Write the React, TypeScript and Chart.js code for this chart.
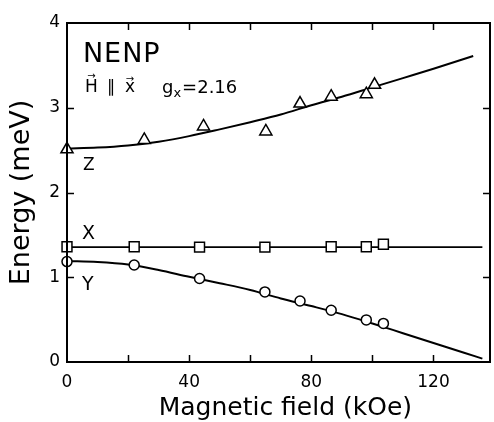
import React, { useEffect, useRef } from "react";
import { Chart, registerables } from "chart.js";

Chart.register(...registerables);

// ---- data ----
const xTickValues = [0, 40, 80, 120];
const xMinorTicks = [20, 40, 60, 80, 100, 120];
const yTickValues = [0, 1, 2, 3, 4];
const yMinorTicks = [1, 2, 3];

// Z mode (triangles) and fitted curve
const zPointsH = [0, 25.3, 44.7, 65.1, 76.3, 86.5, 98, 100.7];
const zPointsE = [2.51, 2.62, 2.78, 2.72, 3.05, 3.13, 3.16, 3.27];
const zCurveH = [0, 10, 20, 30, 40, 50, 60, 70, 80, 90, 100, 110, 120, 133];
const zCurveE = [2.52, 2.53, 2.555, 2.6, 2.665, 2.745, 2.83, 2.92, 3.03, 3.13, 3.24, 3.35, 3.46, 3.61];

// X mode (squares) and flat line
const xPointsH = [0, 22, 43.4, 64.8, 86.5, 98, 103.6];
const xPointsE = [1.36, 1.36, 1.355, 1.355, 1.36, 1.36, 1.39];
const xLineH = [0, 136];
const xLineE = [1.355, 1.355];

// Y mode (circles) and fitted curve
const yPointsH = [0, 22, 43.4, 64.8, 76.3, 86.5, 98, 103.6];
const yPointsE = [1.185, 1.145, 0.985, 0.827, 0.72, 0.61, 0.497, 0.455];
const yCurveH = [0, 10, 20, 30, 40, 50, 60, 70, 80, 90, 100, 110, 120, 130, 136];
const yCurveE = [1.19, 1.18, 1.15, 1.085, 1.005, 0.93, 0.85, 0.75, 0.66, 0.565, 0.455, 0.34, 0.225, 0.11, 0.04];

const xTitle = "Magnetic field (kOe)";
const yTitle = "Energy (meV)";

const FONT = "'DejaVu Sans', 'Liberation Sans', sans-serif";

const pts = (hs: number[], es: number[]) => hs.map((h, i) => ({ x: h, y: es[i] }));

const frameAndLabels = {
  id: "frameAndLabels",
  afterDraw(chart: any) {
    const { ctx, chartArea, scales } = chart;
    const xs = scales.x;
    const ys = scales.y;
    const { left, right, top, bottom } = chartArea;
    ctx.save();
    ctx.strokeStyle = "#000";
    ctx.lineWidth = 2;
    ctx.strokeRect(left, top, right - left, bottom - top);
    const tl = 7;
    ctx.lineWidth = 1.5;
    ctx.beginPath();
    xMinorTicks.forEach((v) => {
      const px = Math.round(xs.getPixelForValue(v)) + 0.5;
      ctx.moveTo(px, bottom);
      ctx.lineTo(px, bottom - tl);
      ctx.moveTo(px, top);
      ctx.lineTo(px, top + tl);
    });
    yMinorTicks.forEach((v) => {
      const py = Math.round(ys.getPixelForValue(v)) + 0.5;
      ctx.moveTo(left, py);
      ctx.lineTo(left + tl, py);
      ctx.moveTo(right, py);
      ctx.lineTo(right - tl, py);
    });
    ctx.stroke();

    ctx.fillStyle = "#000";
    ctx.textAlign = "left";
    ctx.textBaseline = "alphabetic";
    const X = (v: number) => xs.getPixelForValue(v);
    const Y = (v: number) => ys.getPixelForValue(v);

    // x-axis title
    ctx.font = `25px ${FONT}`;
    ctx.textAlign = "center";
    ctx.fillText(xTitle, X(71.5), 415);
    ctx.textAlign = "left";

    // NENP
    ctx.font = `27px ${FONT}`;
    (ctx as any).letterSpacing = "1px";
    ctx.fillText("NENP", X(5.2), Y(3.54));
    (ctx as any).letterSpacing = "0px";

    // H || x with vector arrows
    ctx.font = `17px ${FONT}`;
    const hx = X(5.9);
    const hy = Y(3.18);
    ctx.fillText("H", hx, hy);
    const hw = ctx.measureText("H").width;
    ctx.fillText("\u2225", X(13.1), hy);
    const vx = X(19.0);
    ctx.fillText("x", vx, hy);
    const xw = ctx.measureText("x").width;
    ctx.font = `10px ${FONT}`;
    ctx.textAlign = "center";
    ctx.fillText("\u2192", hx + hw / 2, hy - 13);
    ctx.fillText("\u2192", vx + xw / 2, hy - 10);
    ctx.textAlign = "left";

    // g_x = 2.16
    ctx.font = `18px ${FONT}`;
    let gx = X(31.1);
    const gy = Y(3.176);
    ctx.fillText("g", gx, gy);
    gx += ctx.measureText("g").width;
    ctx.font = `13px ${FONT}`;
    ctx.fillText("x", gx, gy + 4);
    gx += ctx.measureText("x").width + 1;
    ctx.font = `18px ${FONT}`;
    ctx.fillText("=2.16", gx, gy);

    // mode labels
    ctx.font = `17px ${FONT}`;
    ctx.fillText("Z", X(5.2), Y(2.265));
    ctx.font = `19px ${FONT}`;
    ctx.fillText("X", X(4.9), Y(1.451));
    ctx.fillText("Y", X(4.9), Y(0.85));
    ctx.restore();
  },
};

export default function App() {
  const ref = useRef<HTMLCanvasElement>(null);
  useEffect(() => {
    if (!ref.current) return;
    const lineDs = (data: any[], width: number) => ({
      type: "line" as const,
      data,
      borderColor: "#000",
      borderWidth: width,
      pointRadius: 0,
      fill: false,
      cubicInterpolationMode: "monotone" as const,
      order: 2,
      clip: false as any,
    });
    const markDs = (data: any[], style: string, radius: number) => ({
      type: "scatter" as const,
      data,
      pointStyle: style,
      pointRadius: radius,
      pointBackgroundColor: "#fff",
      pointBorderColor: "#000",
      pointBorderWidth: 1.5,
      showLine: false,
      order: 1,
      clip: false as any,
    });
    const chart = new Chart(ref.current, {
      type: "scatter",
      data: {
        datasets: [
          markDs(pts(zPointsH, zPointsE), "triangle", 7),
          markDs(pts(xPointsH, xPointsE), "rect", 7),
          markDs(pts(yPointsH, yPointsE), "circle", 5),
          lineDs(pts(zCurveH, zCurveE), 2),
          lineDs(pts(xLineH, xLineE), 1.6),
          lineDs(pts(yCurveH, yCurveE), 2),
        ] as any,
      },
      options: {
        animation: false,
        responsive: false,
        layout: { autoPadding: false, padding: { top: 23, right: 4, left: 0, bottom: 0 } },
        plugins: { legend: { display: false }, tooltip: { enabled: false } },
        scales: {
          x: {
            type: "linear",
            min: 0,
            max: 138.5,
            grid: { display: false, drawTicks: false },
            border: { display: false },
            afterBuildTicks: (s: any) => {
              s.ticks = xTickValues.map((v) => ({ value: v }));
            },
            afterFit: (s: any) => {
              s.height = 60;
              s.paddingLeft = 0;
              s.paddingRight = 0;
            },
            ticks: {
              color: "#000",
              padding: 10,
              maxRotation: 0,
              font: { family: FONT, size: 17 },
            },
            title: { display: false, text: xTitle },
          },
          y: {
            type: "linear",
            min: 0,
            max: 4,
            grid: { display: false, drawTicks: false },
            border: { display: false },
            afterBuildTicks: (s: any) => {
              s.ticks = yTickValues.map((v) => ({ value: v }));
            },
            afterFit: (s: any) => {
              s.width = 67;
              s.paddingTop = 0;
              s.paddingBottom = 0;
            },
            ticks: {
              color: "#000",
              padding: 7,
              font: { family: FONT, size: 17 },
            },
            title: {
              display: true,
              text: yTitle,
              color: "#000",
              font: { family: FONT, size: 27 },
              padding: { top: 6, bottom: 0 },
            },
          },
        },
      },
      plugins: [frameAndLabels],
    });
    return () => chart.destroy();
  }, []);
  return (
    <div style={{ position: "absolute", left: 0, top: 0, width: 494, height: 422, background: "#fff" }}>
      <canvas ref={ref} width={494} height={422} />
    </div>
  );
}
